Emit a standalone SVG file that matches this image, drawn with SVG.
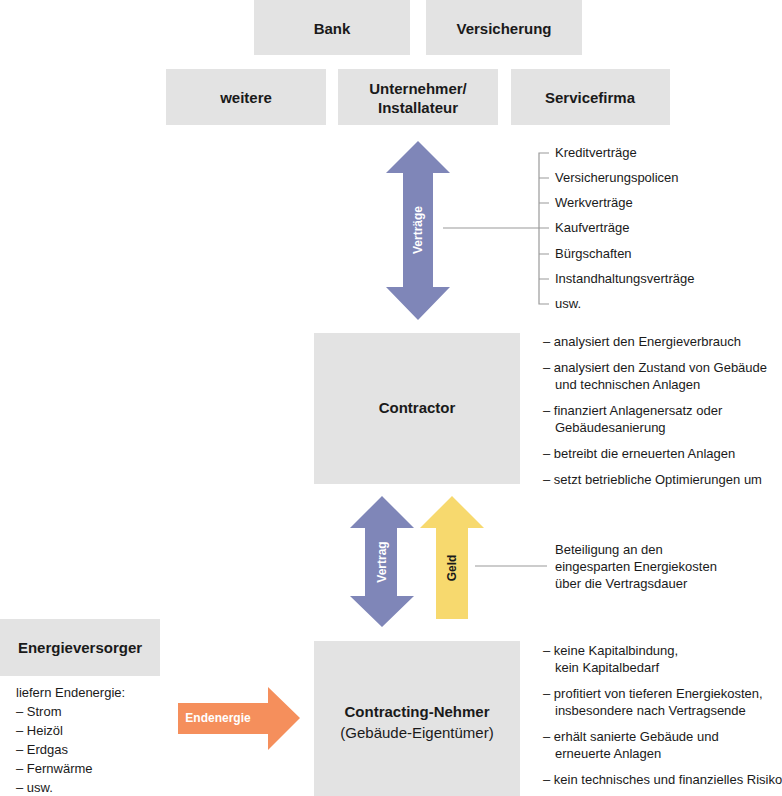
<svg xmlns="http://www.w3.org/2000/svg" width="782" height="796" viewBox="0 0 782 796">
<style>
.box{fill:#e3e3e3}
.t{font-family:"Liberation Sans",Arial,sans-serif;fill:#1a1a1a}
.h{font-size:15px;font-weight:bold;text-anchor:middle}
.s{font-size:13px}
.ln{stroke:#9a9a9a;stroke-width:1.2;fill:none}
.w{font-family:"Liberation Sans",Arial,sans-serif;font-size:12px;font-weight:bold;fill:#fff;text-anchor:middle}
</style>
<rect width="782" height="796" fill="#fff"/>
<g id="bank"><rect class="box" x="254" y="0" width="156" height="55"/><text class="t h" x="332" y="34">Bank</text></g>
<g id="versicherung"><rect class="box" x="426" y="0" width="156" height="55"/><text class="t h" x="504" y="34">Versicherung</text></g>
<g id="weitere"><rect class="box" x="166" y="69" width="160" height="56"/><text class="t h" x="246" y="103">weitere</text></g>
<g id="unternehmer"><rect class="box" x="338" y="69" width="160" height="56"/><text class="t h" x="418" y="94">Unternehmer/</text><text class="t h" x="418" y="113">Installateur</text></g>
<g id="servicefirma"><rect class="box" x="511" y="69" width="159" height="56"/><text class="t h" x="590" y="103">Servicefirma</text></g>
<g id="contractor"><rect class="box" x="314" y="333" width="206" height="151"/><text class="t h" x="417" y="413">Contractor</text></g>
<g id="nehmer"><rect class="box" x="314" y="641" width="206" height="155"/><text class="t h" x="417" y="717">Contracting-Nehmer</text><text class="t h" x="417" y="738" style="font-weight:normal">(Gebäude-Eigentümer)</text></g>
<g id="energieversorger"><rect class="box" x="0" y="619" width="160" height="57"/><text class="t h" x="80" y="653">Energieversorger</text>
<text class="t s" x="16" y="697">liefern Endenergie:</text>
<text class="t s" x="16" y="716">– Strom</text><text class="t s" x="16" y="735">– Heizöl</text><text class="t s" x="16" y="754">– Erdgas</text><text class="t s" x="16" y="773">– Fernwärme</text><text class="t s" x="16" y="792">– usw.</text></g>
<g id="connectors">
<polygon fill="#7f86b8" points="418,141 450,173 433,173 433,287 450,287 418,320 386,287 403,287 403,173 386,173"/>
<text class="w" transform="translate(422,230) rotate(-90)">Verträge</text>
<polyline class="ln" points="443,228 539,228"/>
<polyline class="ln" points="549,153 539,153 539,304 549,304"/>
<path class="ln" d="M539,178H549M539,203H549M539,228H549M539,254H549M539,279H549"/>
<polygon fill="#7f86b8" points="382,496 414,528 397,528 397,596 414,596 382,627 350,596 365,596 365,528 350,528"/>
<text class="w" transform="translate(386,562) rotate(-90)">Vertrag</text>
<polygon fill="#f7d96e" points="452,496 484,528 468,528 468,619 436,619 436,528 420,528"/>
<text class="w" transform="translate(456,568) rotate(-90)" style="fill:#1a1a1a">Geld</text>
<polyline class="ln" points="475,566 547,566"/>
<polygon fill="#f58f5c" points="178,703 268,703 268,687 300,718 268,750 268,734 178,734"/>
<text class="w" x="218" y="722">Endenergie</text>
</g>
<g id="lists" class="t s">
<text x="555" y="157">Kreditverträge</text><text x="555" y="182">Versicherungspolicen</text><text x="555" y="207">Werkverträge</text><text x="555" y="232">Kaufverträge</text><text x="555" y="258">Bürgschaften</text><text x="555" y="283">Instandhaltungsverträge</text><text x="555" y="308">usw.</text>
<text x="543" y="346">– analysiert den Energieverbrauch</text>
<text x="543" y="372">– analysiert den Zustand von Gebäude</text><text x="555" y="389">und technischen Anlagen</text>
<text x="543" y="415">– finanziert Anlagenersatz oder</text><text x="555" y="432">Gebäudesanierung</text>
<text x="543" y="458">– betreibt die erneuerten Anlagen</text>
<text x="543" y="484">– setzt betriebliche Optimierungen um</text>
<text x="555" y="554">Beteiligung an den</text><text x="555" y="571">eingesparten Energiekosten</text><text x="555" y="588">über die Vertragsdauer</text>
<text x="543" y="655">– keine Kapitalbindung,</text><text x="555" y="672">kein Kapitalbedarf</text>
<text x="543" y="698">– profitiert von tieferen Energiekosten,</text><text x="555" y="715">insbesondere nach Vertragsende</text>
<text x="543" y="741">– erhält sanierte Gebäude und</text><text x="555" y="758">erneuerte Anlagen</text>
<text x="543" y="784">– kein technisches und finanzielles Risiko</text>
</g>
</svg>
